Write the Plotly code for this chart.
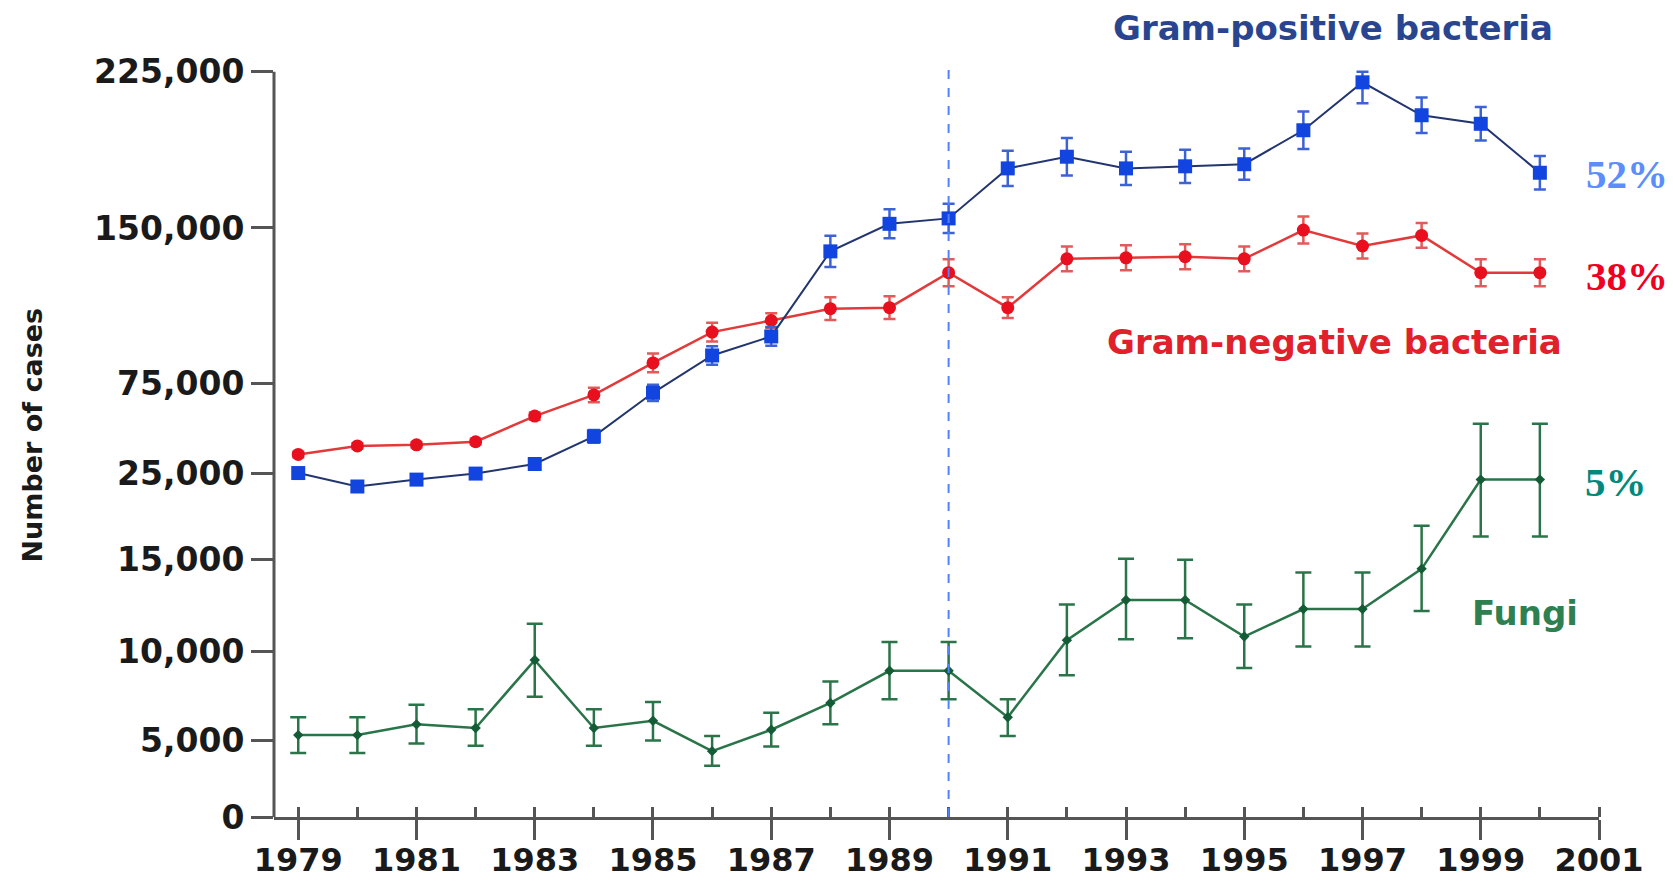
import numpy as np
import plotly.graph_objects as go

# ---------------- data ----------------
years = list(range(1979, 2001))

gram_pos = [25300, 23500, 24300, 25000, 30300, 45600, 69700, 88400, 97600, 138700, 152000,
            154600, 178600, 184200, 178600, 179600, 180600, 196900, 219900, 204100, 200000, 176500]
gram_pos_err = [400, 400, 400, 400, 1500, 3500, 4500, 4500, 4500, 7500, 7000,
                7000, 8500, 9000, 8000, 8000, 7500, 9000, 10000, 8500, 8000, 8000]

gram_neg = [35600, 40300, 40900, 42600, 56800, 68500, 84800, 99700, 105300, 111000, 111500,
            128400, 111500, 135100, 135600, 136100, 135100, 149000, 141300, 146400, 128400, 128400]
gram_neg_err = [1500, 1500, 1500, 1500, 2000, 4000, 4500, 4500, 3500, 5500, 5500,
                6500, 5000, 6000, 6000, 6000, 6000, 6500, 6000, 6000, 6500, 6500]

fungi = [5300, 5300, 5900, 5700, 9500, 5700, 6100, 4300, 5600, 7100, 8900,
         8900, 6300, 10600, 12800, 12800, 10800, 12300, 12300, 14500, 24300, 24300]
fungi_hi = [6300, 6300, 7000, 6750, 11500, 6750, 7150, 5250, 6550, 8300, 10500,
            10500, 7300, 12550, 15100, 15000, 12550, 14300, 14300, 18950, 52600, 52600]
fungi_lo = [4180, 4180, 4800, 4650, 7450, 4650, 5000, 3350, 4600, 5900, 7300,
            7300, 5250, 8650, 10650, 10700, 9050, 10250, 10250, 12200, 17700, 17700]

# non-linear y axis: tick values and their relative spacing as drawn in the source
tick_vals = [0, 5000, 10000, 15000, 25000, 75000, 150000, 225000]
tick_pos = [0, 72, 156, 242, 323, 408, 554, 701]

split_year = 1990
shares = {"Gram-positive": "52%", "Gram-negative": "38%", "Fungi": "5%"}


def to_axis(v):
    return np.interp(np.asarray(v, dtype=float), tick_vals, tick_pos)


def sym_err(vals, errs):
    v = np.asarray(vals, float)
    e = np.asarray(errs, float)
    y = to_axis(v)
    return y, to_axis(v + e) - y, y - to_axis(v - e)


BLUE_M = "#1244e0"
BLUE_L = "#23356e"
BLUE_E = "#3d62d6"
RED_M = "#e8101e"
RED_L = "#e23a3a"
RED_E = "#e25a5a"
GREEN = "#2a7449"

fig = go.Figure()

# Gram-negative
y, up, dn = sym_err(gram_neg, gram_neg_err)
fig.add_trace(go.Scatter(
    x=years, y=y, mode="lines+markers",
    line=dict(color=RED_L, width=2.5),
    marker=dict(symbol="circle", size=13, color=RED_M),
    error_y=dict(type="data", array=up, arrayminus=dn, symmetric=False,
                 color=RED_E, thickness=2.5, width=6),
    showlegend=False, cliponaxis=False))

# Gram-positive
y, up, dn = sym_err(gram_pos, gram_pos_err)
fig.add_trace(go.Scatter(
    x=years, y=y, mode="lines+markers",
    line=dict(color=BLUE_L, width=2),
    marker=dict(symbol="square", size=14, color=BLUE_M),
    error_y=dict(type="data", array=up, arrayminus=dn, symmetric=False,
                 color=BLUE_E, thickness=2.5, width=6),
    showlegend=False, cliponaxis=False))

# Fungi
yf = to_axis(fungi)
fig.add_trace(go.Scatter(
    x=years, y=yf, mode="lines+markers",
    line=dict(color=GREEN, width=2.5),
    marker=dict(symbol="diamond", size=8, color="#145c36"),
    error_y=dict(type="data", array=to_axis(fungi_hi) - yf, arrayminus=yf - to_axis(fungi_lo),
                 symmetric=False, color=GREEN, thickness=2.5, width=8),
    showlegend=False, cliponaxis=False))

AXIS_C = "#555555"
TICK_FONT = dict(family="DejaVu Sans", size=33, color="#1a1a1a", weight="bold")
XTICK_FONT = dict(family="DejaVu Sans", size=32, color="#1a1a1a", weight="bold")

fig.update_layout(
    width=1673, height=883,
    margin=dict(l=266, r=82, t=52, b=74, autoexpand=False),
    paper_bgcolor="white", plot_bgcolor="white",
    xaxis=dict(
        range=[1978.59, 2001], tickmode="linear", tick0=1979, dtick=2,
        automargin=False,
        showgrid=False, zeroline=False, showline=True, linecolor=AXIS_C, linewidth=3,
        ticks="outside", ticklen=20, tickwidth=3, tickcolor=AXIS_C,
        ticklabelstandoff=-7,
        tickfont=XTICK_FONT,
        minor=dict(ticks="inside", ticklen=10, tickwidth=3, tickcolor=AXIS_C,
                   tickmode="linear", tick0=1979, dtick=1, showgrid=False),
    ),
    yaxis=dict(
        range=[0, 712], tickmode="array", tickvals=tick_pos,
        ticktext=[f"{v:,}" for v in tick_vals],
        automargin=False,
        showgrid=False, zeroline=False, showline=False,
        ticks="outside", ticklen=22, tickwidth=3, tickcolor=AXIS_C,
        tickfont=TICK_FONT,
    ),
)

# y axis line (ends at the top tick)
fig.add_shape(type="line", xref="paper", yref="y", x0=0, x1=0, y0=tick_pos[0], y1=tick_pos[-1],
              line=dict(color=AXIS_C, width=3))
# vertical dashed split line
fig.add_shape(type="line", xref="x", yref="paper", x0=split_year, x1=split_year, y0=0, y1=0.995,
              line=dict(color="#4f83ff", width=2, dash="dash"))

LBL = dict(family="DejaVu Sans", size=34, weight="bold")
PCT = dict(family="Liberation Serif", size=41, weight="bold")

ann = [
    dict(text="Gram-positive bacteria", x=0.799, y=1.042, font=dict(LBL, color="#2a4590")),
    dict(text="Gram-negative bacteria", x=0.800, y=0.628, font=dict(LBL, color="#e0202a")),
    dict(text="Fungi", x=0.944, y=0.269, font=dict(LBL, color="#2e8050")),
    dict(text=shares["Gram-positive"], x=1.021, y=0.849, font=dict(PCT, color="#5b8dfb")),
    dict(text=shares["Gram-negative"], x=1.021, y=0.715, font=dict(PCT, color="#ee0022")),
    dict(text=shares["Fungi"], x=1.013, y=0.442, font=dict(PCT, color="#00897b")),
]
for a in ann:
    fig.add_annotation(xref="paper", yref="paper", showarrow=False,
                       xanchor="center", yanchor="middle", **a)

fig.add_annotation(text="Number of cases", xref="paper", yref="paper", x=-0.182, y=0.505,
                   textangle=-90, showarrow=False, xanchor="center", yanchor="middle",
                   font=dict(family="DejaVu Sans", size=27, weight="bold", color="#1a1a1a"))

fig.write_html("out.html")
